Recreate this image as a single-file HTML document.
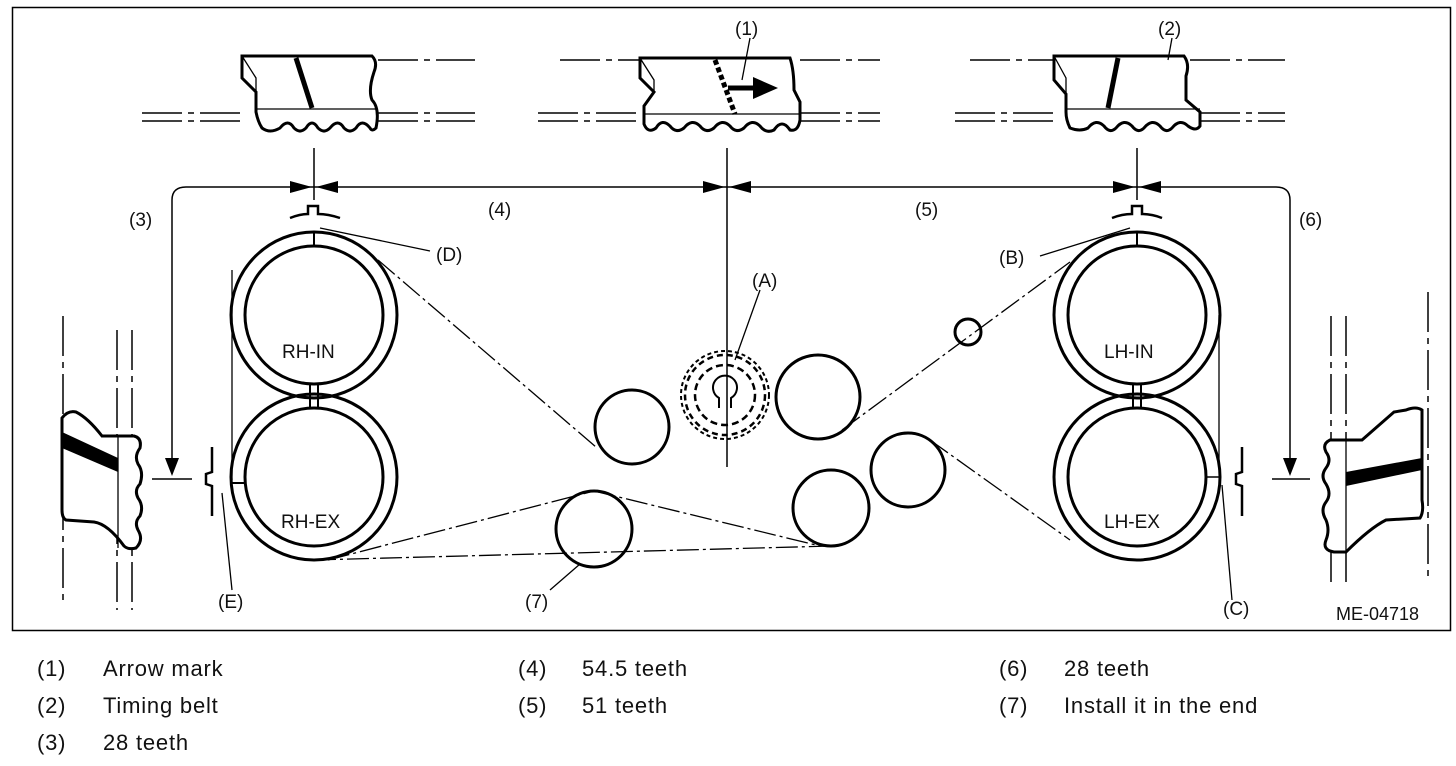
<!DOCTYPE html>
<html><head><meta charset="utf-8"><style>
body{margin:0;background:#fff;width:1456px;height:766px;overflow:hidden;font-family:"Liberation Sans",Arial,sans-serif}
svg{position:absolute;left:0;top:0}
.lg{position:absolute;font-size:22px;letter-spacing:0.8px;color:#111}
</style></head><body>
<svg width="1456" height="766" viewBox="0 0 1456 766" font-family="Liberation Sans, Arial, sans-serif">
<rect x="12.5" y="7.5" width="1438" height="623" fill="none" stroke="#000" stroke-width="1.5"/>
<g stroke="#000" fill="none">
<g stroke-width="1.5" stroke-dasharray="40,6,6,6">
<line x1="142" y1="113" x2="240" y2="113"/><line x1="142" y1="121" x2="240" y2="121"/>
<line x1="378" y1="113" x2="475" y2="113"/><line x1="378" y1="121" x2="475" y2="121"/>
<line x1="378" y1="60" x2="475" y2="60"/>
<line x1="560" y1="60" x2="642" y2="60"/>
<line x1="538" y1="113" x2="640" y2="113"/><line x1="538" y1="121" x2="640" y2="121"/>
<line x1="800" y1="60" x2="880" y2="60"/>
<line x1="800" y1="113" x2="880" y2="113"/><line x1="800" y1="121" x2="880" y2="121"/>
<line x1="970" y1="60" x2="1055" y2="60"/>
<line x1="955" y1="113" x2="1055" y2="113"/><line x1="955" y1="121" x2="1055" y2="121"/>
<line x1="1190" y1="60" x2="1285" y2="60"/>
<line x1="1200" y1="113" x2="1285" y2="113"/><line x1="1200" y1="121" x2="1285" y2="121"/>
</g>
<g stroke-width="3" fill="#fff">
<path d="M242,56 L372,56 Q378,62 374,72 Q368,90 372,100 Q380,108 376,128 Q372,132 370,128 Q362,118 356,128 Q350,134 344,128 Q338,118 330,128 Q324,134 318,128 Q312,118 306,128 Q300,134 294,128 Q288,118 280,128 Q270,134 262,128 Q258,122 256,112 L256,92 L242,78 Z"/>
<path d="M640,58 L790,58 Q794,70 794,90 L800,102 L800,120 Q798,132 790,130 Q782,118 774,130 Q766,134 760,126 Q752,118 744,128 Q736,134 730,126 Q722,118 714,128 Q706,134 700,126 Q692,118 684,128 Q676,134 670,126 Q662,118 656,128 Q648,134 644,124 L644,106 L654,92 L640,78 Z"/>
<path d="M1054,56 L1184,56 Q1190,64 1186,76 L1186,100 L1200,112 L1200,126 Q1196,132 1188,126 Q1180,118 1172,128 Q1166,134 1160,126 Q1152,118 1144,128 Q1138,134 1132,126 Q1124,118 1116,128 Q1110,134 1104,126 Q1096,118 1088,128 Q1080,132 1070,128 Q1066,120 1066,112 L1066,94 L1054,80 Z"/>
</g>
<g stroke-width="1.3"><line x1="256" y1="109" x2="376" y2="109"/><line x1="644" y1="114" x2="800" y2="114"/><line x1="1066" y1="109" x2="1200" y2="109"/>
<path d="M242,56 L256,78 L256,92"/><path d="M640,58 L654,80 L654,92"/><path d="M1054,56 L1066,78 L1066,94"/></g>
<line x1="296" y1="58" x2="312" y2="108" stroke-width="5"/>
<line x1="1118" y1="58" x2="1108" y2="108" stroke-width="5"/>
<line x1="715" y1="60" x2="735" y2="114" stroke-width="5" stroke-dasharray="5,3"/>
<line x1="728" y1="88" x2="756" y2="88" stroke-width="5"/>
<path d="M753,77 L778,88 L753,99Z" fill="#000" stroke="none"/>
<line x1="750" y1="38" x2="742" y2="80" stroke-width="1.3"/>
<line x1="1172" y1="38" x2="1168" y2="60" stroke-width="1.3"/>
<g stroke-width="1.5"><line x1="314" y1="148" x2="314" y2="200"/><line x1="727" y1="148" x2="727" y2="467"/><line x1="1137" y1="148" x2="1137" y2="200"/></g>
<path d="M172,465 L172,200 Q172,187 186,187 L1276,187 Q1290,187 1290,200 L1290,465" stroke-width="1.5"/>
<path d="M290,181 L312,187 L290,193Z M338,181 L316,187 L338,193Z M703,181 L725,187 L703,193Z M751,181 L729,187 L751,193Z M1113,181 L1135,187 L1113,193Z M1161,181 L1139,187 L1161,193Z" fill="#000" stroke="none"/>
<path d="M165,458 L172,476 L179,458Z M1283,458 L1290,476 L1297,458Z" fill="#000" stroke="none"/>
<line x1="152" y1="479" x2="192" y2="479" stroke-width="1.5"/><line x1="1272" y1="479" x2="1310" y2="479" stroke-width="1.5"/>
<path d="M290,218 Q300,214 308,214 L308,206 L318,206 L318,214 Q328,214 340,218" stroke-width="2.5"/>
<path d="M1112,218 Q1122,214 1132,214 L1132,206 L1142,206 L1142,214 Q1152,214 1162,218" stroke-width="2.5"/>
<path d="M212,447 L212,472 L206,474 L206,484 L212,486 L212,516" stroke-width="2.5"/>
<path d="M1242,447 L1242,472 L1236,474 L1236,484 L1242,486 L1242,516" stroke-width="2.5"/>
<g stroke-width="3">
<circle cx="314" cy="315" r="83"/><circle cx="314" cy="315" r="69"/>
<circle cx="314" cy="477" r="83"/><circle cx="314" cy="477" r="69"/>
<circle cx="1137" cy="315" r="83"/><circle cx="1137" cy="315" r="69"/>
<circle cx="1137" cy="477" r="83"/><circle cx="1137" cy="477" r="69"/>
<circle cx="632" cy="427" r="37"/><circle cx="818" cy="397" r="42"/><circle cx="908" cy="470" r="37"/>
<circle cx="831" cy="508" r="38"/><circle cx="594" cy="529" r="38"/><circle cx="968" cy="332" r="13"/>
</g>
<g stroke-width="2"><line x1="314" y1="232" x2="314" y2="246"/><line x1="1137" y1="232" x2="1137" y2="246"/>
<line x1="310" y1="384" x2="310" y2="408"/><line x1="318" y1="384" x2="318" y2="408"/>
<line x1="1133" y1="384" x2="1133" y2="408"/><line x1="1141" y1="384" x2="1141" y2="408"/>
<line x1="231" y1="483" x2="245" y2="483"/><line x1="1206" y1="477" x2="1220" y2="477" stroke-width="1.5"/></g>
<circle cx="725" cy="395" r="44" stroke-width="2" stroke-dasharray="4,3"/>
<circle cx="725" cy="395" r="40" stroke-width="2.5" stroke-dasharray="6,4"/>
<circle cx="725" cy="395" r="30" stroke-width="2.5" stroke-dasharray="7,4"/>
<path d="M719,408 L719,398 A12,12 0 1 1 731,398 L731,408" stroke-width="2"/>
<g stroke-width="1.3" stroke-dasharray="22,4,3,4">
<line x1="378" y1="260" x2="596" y2="447"/>
<line x1="842" y1="430" x2="1070" y2="262"/>
<line x1="930" y1="440" x2="1070" y2="540"/>
<line x1="328" y1="560" x2="594" y2="491"/>
<line x1="314" y1="560" x2="832" y2="546"/>
<line x1="594" y1="491" x2="820" y2="546"/>
</g>
<line x1="232" y1="270" x2="232" y2="480" stroke-width="1.3"/><line x1="1219" y1="315" x2="1219" y2="470" stroke-width="1.3"/>
<g stroke-width="1.3"><line x1="320" y1="228" x2="430" y2="251"/><line x1="1130" y1="228" x2="1040" y2="256"/>
<line x1="760" y1="290" x2="735" y2="360"/><line x1="222" y1="493" x2="232" y2="590"/>
<line x1="1222" y1="485" x2="1232" y2="600"/><line x1="550" y1="590" x2="580" y2="564"/></g>
<g stroke-width="1.5" stroke-dasharray="40,6,6,6"><line x1="63" y1="316" x2="63" y2="600"/><line x1="117" y1="330" x2="117" y2="610"/><line x1="132" y1="330" x2="132" y2="610"/>
<line x1="1331" y1="316" x2="1331" y2="582"/><line x1="1346" y1="316" x2="1346" y2="582"/><line x1="1428" y1="292" x2="1428" y2="582"/></g>
<path d="M62,418 Q68,410 76,412 Q88,418 102,436 L134,436 Q142,438 140,448 Q134,456 138,464 Q144,472 140,484 Q134,490 138,498 Q144,506 140,516 Q134,522 138,530 Q144,540 136,548 Q128,550 124,546 Q108,524 94,522 L66,520 Q62,518 62,510 Z" stroke-width="3" fill="#fff"/>
<line x1="118" y1="436" x2="118" y2="548" stroke-width="1.3"/>
<path d="M62,432 L118,458 L118,472 L62,448Z" fill="#000" stroke="none"/>
<path d="M1422,410 Q1416,406 1406,410 L1394,412 L1362,440 L1330,440 Q1322,444 1326,452 Q1332,460 1326,468 Q1320,476 1326,484 Q1332,494 1326,502 Q1320,510 1326,520 Q1330,530 1326,540 Q1322,550 1334,552 L1346,552 Q1370,528 1386,520 L1420,518 Q1424,512 1422,500 Z" stroke-width="3" fill="#fff"/>
<line x1="1346" y1="440" x2="1346" y2="552" stroke-width="1.3"/>
<path d="M1346,472 L1422,458 L1422,470 L1346,486Z" fill="#000" stroke="none"/>
</g>
<g font-size="19" fill="#111">
<text x="735" y="35">(1)</text><text x="1158" y="35">(2)</text>
<text x="129" y="226">(3)</text><text x="488" y="216">(4)</text><text x="915" y="216">(5)</text><text x="1299" y="226">(6)</text>
<text x="436" y="261">(D)</text><text x="999" y="264">(B)</text><text x="752" y="287">(A)</text>
<text x="218" y="608">(E)</text><text x="525" y="608">(7)</text><text x="1223" y="615">(C)</text>
<text x="282" y="358">RH-IN</text><text x="281" y="528">RH-EX</text>
<text x="1104" y="358">LH-IN</text><text x="1104" y="528">LH-EX</text>
<text x="1336" y="620" font-size="18">ME-04718</text>
</g>
</svg>
<div class="lg" style="left:37px;top:656px">(1)</div><div class="lg" style="left:103px;top:656px">Arrow mark</div>
<div class="lg" style="left:37px;top:693px">(2)</div><div class="lg" style="left:103px;top:693px">Timing belt</div>
<div class="lg" style="left:37px;top:730px">(3)</div><div class="lg" style="left:103px;top:730px">28 teeth</div>
<div class="lg" style="left:518px;top:656px">(4)</div><div class="lg" style="left:582px;top:656px">54.5 teeth</div>
<div class="lg" style="left:518px;top:693px">(5)</div><div class="lg" style="left:582px;top:693px">51 teeth</div>
<div class="lg" style="left:999px;top:656px">(6)</div><div class="lg" style="left:1064px;top:656px">28 teeth</div>
<div class="lg" style="left:999px;top:693px">(7)</div><div class="lg" style="left:1064px;top:693px">Install it in the end</div>
</body></html>
